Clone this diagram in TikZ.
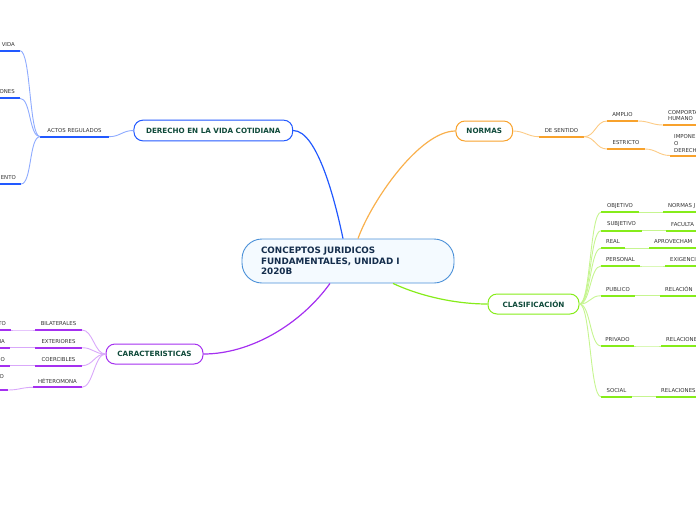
\documentclass[tikz,border=0pt]{standalone}
\usepackage{fontspec}
\setmainfont{DejaVu Sans}
\definecolor{cblue}{HTML}{2259FF}
\definecolor{lblue}{HTML}{8EABFF}
\definecolor{corange}{HTML}{F8A22C}
\definecolor{lorange}{HTML}{FCCB85}
\definecolor{cgreen}{HTML}{86EC1A}
\definecolor{lgreen}{HTML}{C6F590}
\definecolor{cpurple}{HTML}{A530F0}
\definecolor{lpurple}{HTML}{D9A8FA}
\definecolor{cborder}{HTML}{4A90D8}
\definecolor{cfill}{HTML}{F4FAFF}
\definecolor{ntext}{HTML}{0F4A3A}
\definecolor{ctext}{HTML}{142D4C}
\definecolor{stext}{HTML}{333333}
\tikzset{
  topic/.style={draw, line width=1pt, rounded corners=9pt, fill=white,
    font=\fontsize{7.2}{8}\selectfont\bfseries, text=ntext, inner sep=0pt},
  lbl/.style={font=\fontsize{5.4}{6.7}\selectfont, text=stext, inner sep=0pt},
  uline/.style={line width=2pt, draw=#1},
  mainlink/.style={line width=1.2pt, draw=#1},
  rlink/.style={line width=0.9pt, draw=#1, out=0, in=180, distance=11pt},
  llink/.style={line width=0.9pt, draw=#1, out=180, in=0, distance=11pt}
}
% leaf with underline from xL to xR at y, label centred above
\newcommand{\mkleaf}[6]{%
  \coordinate (#1L) at (#2,#4);
  \coordinate (#1R) at (#3,#4);
  \draw[uline=#5] (#1L) -- (#1R);
  \node[lbl] (#1) at ({(#2+#3)/2},{#4-6.3}) {#6};}
% leaf cut by the right edge
\newcommand{\mkleafW}[5]{%
  \coordinate (#1L) at (#2,#3);
  \coordinate (#1R) at (705,#3);
  \draw[uline=#4] (#1L) -- (#1R);
  \node[lbl, anchor=west] (#1) at ({#2+5},{#3-6.3}) {#5};}
% leaf cut by the left edge
\newcommand{\mkleafE}[5]{%
  \coordinate (#1L) at (-10,#3);
  \coordinate (#1R) at (#2,#3);
  \draw[uline=#4] (#1L) -- (#1R);
  \node[lbl, anchor=east] (#1) at ({#2-5},{#3-6.3}) {#5};}
\begin{document}
\begin{tikzpicture}[x=1pt,y=-1pt]
\useasboundingbox (0,0) rectangle (696,520);
\clip (0,0) rectangle (696,520);

% central topic
\node[draw=cborder, fill=cfill, line width=0.9pt, rounded corners=20pt,
  minimum width=212pt, minimum height=44pt, text width=174pt, align=left,
  inner xsep=19pt, inner ysep=0pt, font=\fontsize{8.8}{10.7}\selectfont\bfseries, text=ctext]
  (cen) at (348,261) {CONCEPTOS JURIDICOS\\FUNDAMENTALES, UNIDAD I\\2020B};

% main topics
\node[topic, draw=cblue, minimum width=158.7pt, minimum height=20.7pt] (der) at (213.3,130.5) {DERECHO EN LA VIDA COTIDIANA};
\node[topic, draw=corange, minimum width=56.7pt, minimum height=20pt] (nor) at (484.3,131) {NORMAS};
\node[topic, draw=cgreen, minimum width=91pt, minimum height=20pt] (cla) at (533.5,304) {CLASIFICACIÓN};
\node[topic, draw=cpurple, minimum width=97pt, minimum height=20pt] (car) at (154.5,354) {CARACTERISTICAS};

% main connectors
\draw[mainlink=cblue] ([xshift=-5pt]cen.north) .. controls (336,205) and (318,130.5) .. (der.east);
\draw[mainlink=corange!85] ([xshift=10pt]cen.north) .. controls (372,200) and (420,131) .. (nor.west);
\draw[mainlink=cgreen] ([xshift=45pt]cen.south) .. controls (420,296) and (455,304) .. (cla.west);
\draw[mainlink=cpurple] ([xshift=-18pt]cen.south) .. controls (300,325) and (250,354) .. (car.east);

% ---- blue branch
\mkleaf{act}{40}{109}{136.7}{cblue}{ACTOS REGULADOS}
\mkleafE{vid}{20}{50.7}{cblue}{VIDA}
\mkleafE{ones}{20}{98.3}{cblue}{ONES}
\mkleafE{ento}{21}{184}{cblue}{ENTO}
\draw[llink=lblue] (der.west) to (actR);
\draw[llink=lblue] (actL) to (vidR);
\draw[llink=lblue] (actL) to (onesR);
\draw[llink=lblue] (actL) to (entoR);

% ---- orange branch
\mkleaf{sen}{539}{584}{136.7}{corange}{DE SENTIDO}
\mkleaf{amp}{607}{638}{121}{corange}{AMPLIO}
\mkleaf{est}{607}{645}{149}{corange}{ESTRICTO}
\coordinate (comL) at (663,125);
\coordinate (comR) at (705,125);
\draw[uline=corange] (comL) -- (comR);
\node[lbl, anchor=west, align=left] (com) at (668,115.5) {COMPORTA\\HUMANO};
\coordinate (impL) at (670,155.5);
\coordinate (impR) at (705,155.5);
\draw[uline=corange] (impL) -- (impR);
\node[lbl, anchor=west, align=left] (imp) at (674,143.5) {IMPONE\\O\\DERECH};
\draw[rlink=lorange] (nor.east) to (senL);
\draw[rlink=lorange] (senR) to (ampL);
\draw[rlink=lorange] (senR) to (estL);
\draw[rlink=lorange] (ampR) to (comL);
\draw[rlink=lorange] (estR) to (impL);

% ---- green branch
\mkleaf{obj}{601}{639}{212.3}{cgreen}{OBJETIVO}
\mkleaf{sub}{601}{642}{230.7}{cgreen}{SUBJETIVO}
\mkleaf{rea}{601}{625}{248.3}{cgreen}{REAL}
\mkleaf{per}{601}{640}{266}{cgreen}{PERSONAL}
\mkleaf{pub}{601}{635}{295.7}{cgreen}{PUBLICO}
\mkleaf{pri}{601}{634}{346}{cgreen}{PRIVADO}
\mkleaf{soc}{601}{632}{396.7}{cgreen}{SOCIAL}
\mkleafW{nj}{663}{212.3}{cgreen}{NORMAS J}
\mkleafW{fac}{666}{230.7}{cgreen}{FACULTA}
\mkleafW{apr}{649}{248.3}{cgreen}{APROVECHAM}
\mkleafW{exi}{665}{266}{cgreen}{EXIGENCI}
\mkleafW{rla}{660}{295.7}{cgreen}{RELACIÓN}
\mkleafW{rlb}{661}{346}{cgreen}{RELACIONE}
\mkleafW{rlc}{656}{396.7}{cgreen}{RELACIONES}
\foreach \n in {obj,sub,rea,per,pub,pri,soc}
  \draw[rlink=lgreen] (cla.east) to (\n L);
\draw[rlink=lgreen] (objR) to (njL);
\draw[rlink=lgreen] (subR) to (facL);
\draw[rlink=lgreen] (reaR) to (aprL);
\draw[rlink=lgreen] (perR) to (exiL);
\draw[rlink=lgreen] (pubR) to (rlaL);
\draw[rlink=lgreen] (priR) to (rlbL);
\draw[rlink=lgreen] (socR) to (rlcL);

% ---- purple branch
\mkleaf{bil}{35}{82}{330}{cpurple}{BILATERALES}
\mkleaf{ext}{35}{82}{347.7}{cpurple}{EXTERIORES}
\mkleaf{coe}{35}{82}{365.7}{cpurple}{COERCIBLES}
\mkleaf{het}{33}{82}{387.3}{cpurple}{HÉTEROMONA}
\mkleafE{tto}{11}{330}{cpurple}{TO}
\mkleafE{nna}{10}{347.7}{cpurple}{NA}
\mkleafE{ddo}{10}{365.7}{cpurple}{DO}
\coordinate (ooL) at (-10,390);
\coordinate (ooR) at (8,390);
\draw[uline=cpurple] (ooL) -- (ooR);
\node[lbl, anchor=east] (oo) at (4,377) {O};
\foreach \n in {bil,ext,coe,het}
  \draw[llink=lpurple] (car.west) to (\n R);
\draw[llink=lpurple] (bilL) to (ttoR);
\draw[llink=lpurple] (extL) to (nnaR);
\draw[llink=lpurple] (coeL) to (ddoR);
\draw[llink=lpurple] (hetL) to (ooR);
\end{tikzpicture}
\end{document}
